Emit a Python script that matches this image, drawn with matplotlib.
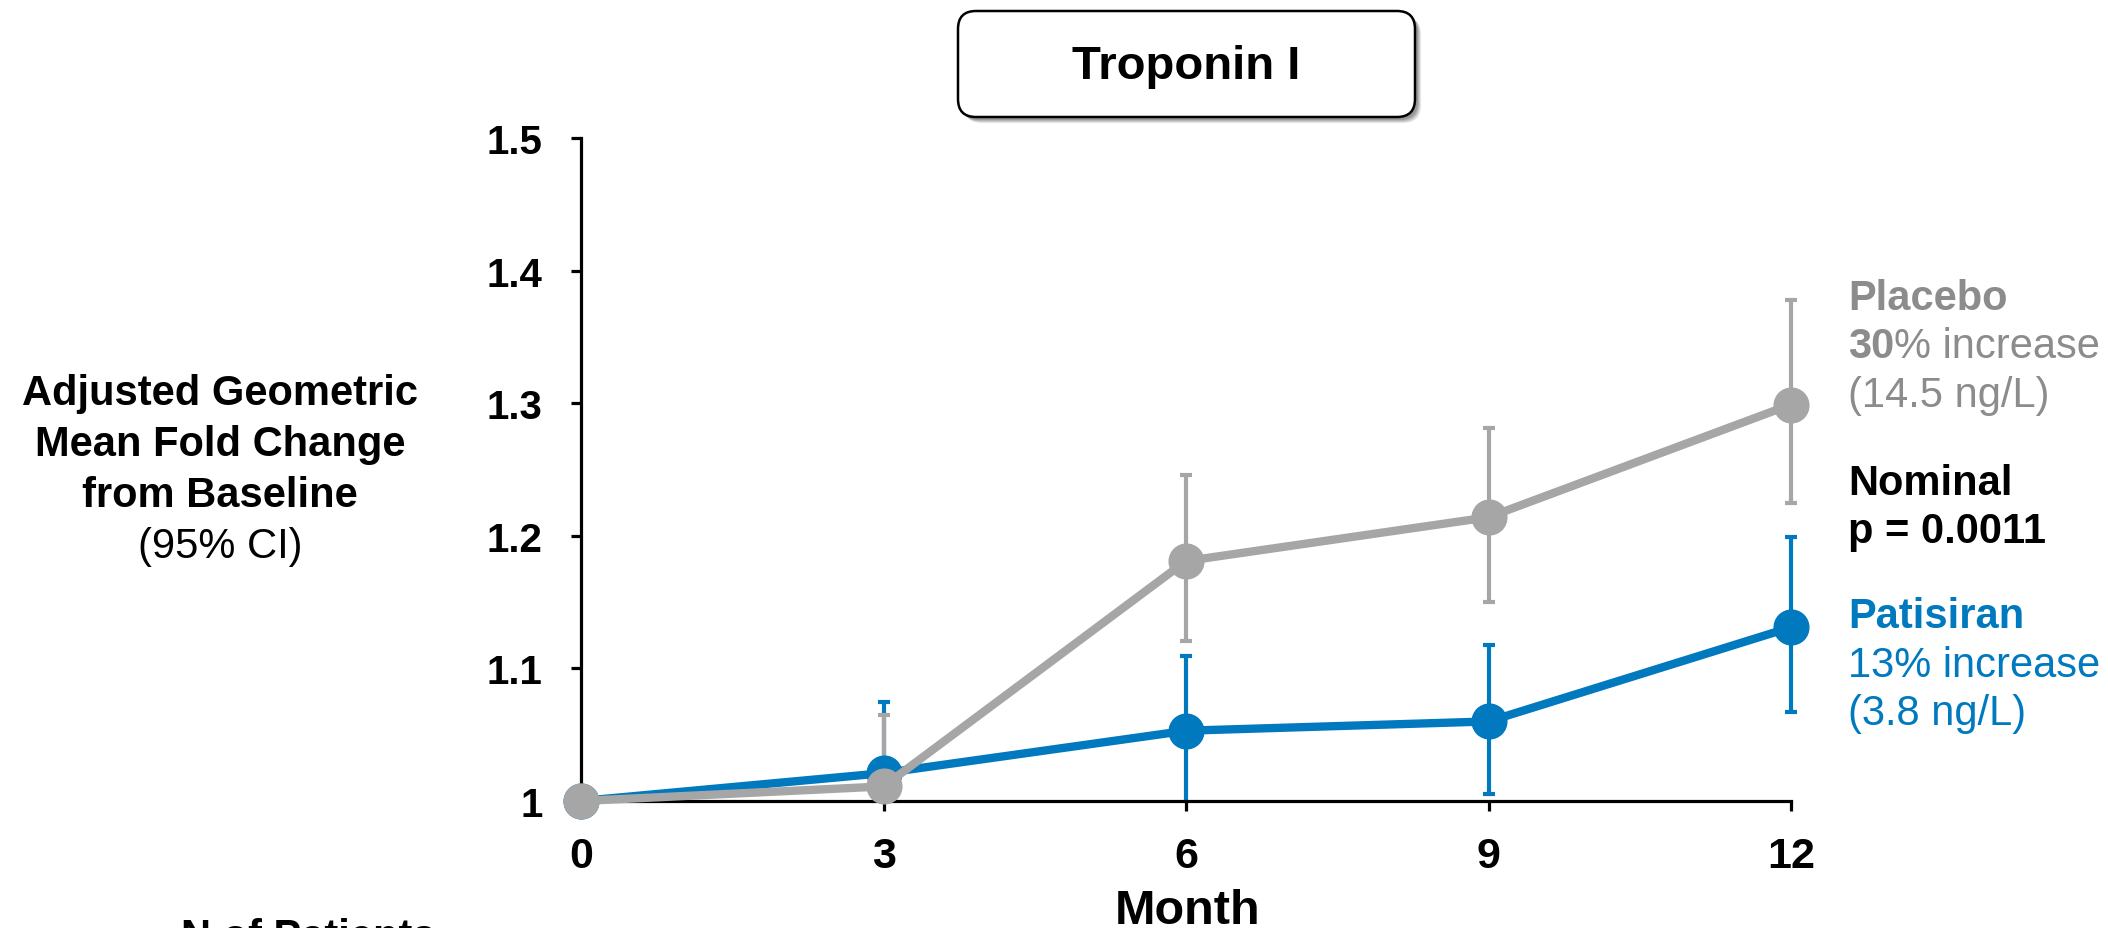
import numpy as np
import matplotlib.pyplot as plt
from matplotlib.patches import FancyBboxPatch, Rectangle

plt.rcParams['font.family'] = ['Liberation Sans', 'DejaVu Sans']

# ── data: adjusted geometric mean fold change from baseline (95% CI) ──
months = [0, 3, 6, 9, 12]
placebo_mean = [1.000, 1.011, 1.181, 1.214, 1.299]
placebo_lo = [1.000, 0.975, 1.121, 1.150, 1.225]
placebo_hi = [1.000, 1.065, 1.246, 1.281, 1.378]
patisiran_mean = [1.000, 1.021, 1.053, 1.060, 1.131]
patisiran_lo = [1.000, 0.970, 0.990, 1.005, 1.067]
patisiran_hi = [1.000, 1.075, 1.109, 1.118, 1.199]
yticks = [1.0, 1.1, 1.2, 1.3, 1.4, 1.5]
ytick_labels = ["1", "1.1", "1.2", "1.3", "1.4", "1.5"]

BLUE = "#0079bf"
GRAY = "#a6a6a6"
GRAY_TXT = "#8c8c8c"

W, H = 2108, 929
fig = plt.figure(figsize=(W / 100, H / 100), dpi=100)
ax = fig.add_axes([581 / W, (H - 802) / H, 1210 / W, 663 / H])

clip_rect = Rectangle((-0.05, 0.0), 1.1, 1.2, transform=ax.transAxes)


def draw_ci(mean, lo, hi, color, z):
    m = np.array(mean[1:])
    err = [m - np.array(lo[1:]), np.array(hi[1:]) - m]
    cont = ax.errorbar(months[1:], m, yerr=err, fmt="none", ecolor=color,
                       elinewidth=3.0, capsize=4.5, capthick=3.0, zorder=z)
    for art in cont.get_children():
        art.set_clip_path(clip_rect)


draw_ci(patisiran_mean, patisiran_lo, patisiran_hi, BLUE, 2)
draw_ci(placebo_mean, placebo_lo, placebo_hi, GRAY, 2.5)

ax.plot(months, patisiran_mean, color=BLUE, lw=6, marker="o", ms=25,
        clip_on=False, zorder=3)
ax.plot(months, placebo_mean, color=GRAY, lw=6, marker="o", ms=25,
        clip_on=False, zorder=4)

ax.set_xlim(0, 12)
ax.set_ylim(1.0, 1.5)
ax.set_xticks(months)
ax.set_xticklabels([str(m) for m in months])
ax.set_yticks(yticks)
ax.set_yticklabels(ytick_labels)
for s in ("top", "right"):
    ax.spines[s].set_visible(False)
for s in ("left", "bottom"):
    ax.spines[s].set_linewidth(2.3)
ax.tick_params(axis="both", width=2.3, length=7.5, labelsize=29, pad=20)
ax.tick_params(axis="x", labelsize=31, pad=18)
for lbl in ax.get_xticklabels() + ax.get_yticklabels():
    lbl.set_fontweight("bold")
ax.patch.set_alpha(0)

# overlay in pixel units for annotations
ov = fig.add_axes([0, 0, 1, 1], zorder=-1)
ov.set_xlim(0, W)
ov.set_ylim(H, 0)
ov.axis("off")

# title box with soft shadow
bx, by, bw, bh = 958, 12, 457, 106
for i, a in enumerate([0.10, 0.10, 0.12, 0.15]):
    off = 6 - i
    ov.add_patch(FancyBboxPatch((bx + off, by + off), bw, bh,
                                boxstyle="round,pad=0,rounding_size=18",
                                fc="black", ec="none", alpha=a))
ov.add_patch(FancyBboxPatch((bx, by), bw, bh,
                            boxstyle="round,pad=0,rounding_size=18",
                            fc="white", ec="black", lw=1.8))
ov.text(bx + bw / 2, 67, "Troponin I", ha="center", va="center",
        fontsize=34, fontweight="bold")

# y-axis label
ylab = ["Adjusted Geometric", "Mean Fold Change", "from Baseline"]
for i, line in enumerate(ylab):
    ov.text(220, 405 + i * 51, line, ha="center", va="baseline",
            fontsize=30, fontweight="bold")
ov.text(220, 405 + 3 * 51, "(95% CI)", ha="center", va="baseline", fontsize=30)

ov.text(1188, 924, "Month", ha="center", va="baseline", fontsize=35,
        fontweight="bold")
ov.text(308, 918, "N of Patients", ha="center", va="top", fontsize=30,
        fontweight="bold")

# right-hand annotations
tx = 1848
fs = 30
ov.text(tx, 310, "Placebo", color=GRAY_TXT, fontsize=fs, fontweight="bold",
        va="baseline")
t30 = ov.text(tx, 358, "30", color=GRAY_TXT, fontsize=fs, fontweight="bold",
              va="baseline")
fig.canvas.draw()
bb = t30.get_window_extent()
x_after = tx + bb.width
ov.text(x_after, 358, "% increase", color=GRAY_TXT, fontsize=fs, va="baseline")
ov.text(tx, 407, "(14.5 ng/L)", color=GRAY_TXT, fontsize=fs, va="baseline")

ov.text(tx, 495, "Nominal", color="black", fontsize=fs, fontweight="bold",
        va="baseline")
ov.text(tx, 543, "p = 0.0011", color="black", fontsize=fs, fontweight="bold",
        va="baseline")

ov.text(tx, 628, "Patisiran", color=BLUE, fontsize=fs, fontweight="bold",
        va="baseline")
ov.text(tx, 677, "13% increase", color=BLUE, fontsize=fs, va="baseline")
ov.text(tx, 725, "(3.8 ng/L)", color=BLUE, fontsize=fs, va="baseline")

fig.savefig("out.png", dpi=100)
